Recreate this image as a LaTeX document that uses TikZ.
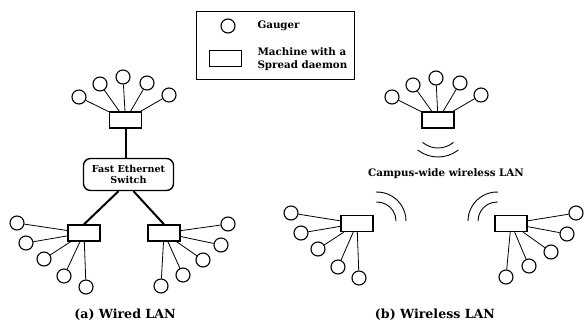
\documentclass[tikz,border=0pt]{standalone}
\usepackage{fontspec}
\setmainfont{DejaVu Serif}
\usetikzlibrary{positioning}

\begin{document}
\begin{tikzpicture}[x=1pt,y=-1pt,
        gauger/.style={draw,circle,line width=1.1pt,minimum size=14pt,inner sep=0pt},
        machine/.style={draw,rectangle,line width=1.4pt,minimum width=32pt,minimum height=16pt,inner sep=0pt},
        switchbox/.style={draw,rectangle,rounded corners=7pt,line width=1.4pt,minimum width=90pt,minimum height=32pt,inner sep=1pt,align=center,font=\bfseries\fontsize{9.6}{11}\selectfont},
        keybox/.style={draw,rectangle,line width=0.8pt,minimum width=158pt,minimum height=68pt},
        link/.style={line width=0.8pt},
        trunk/.style={line width=2pt},
        wave/.style={line width=0.9pt},
        lbl/.style={font=\bfseries\fontsize{10.3}{13.5}\selectfont,align=left},
        subcap/.style={font=\bfseries\fontsize{12.6}{14}\selectfont}]
        \useasboundingbox (0,0) rectangle (584,333);
        % legend
        \node[keybox] (key) at (275.5,45.5) {};
        \node[gauger] (kg) at (228,26) {};
        \node[machine] (km) at (225.5,58.5) {};
        \node[lbl,anchor=west] (kgl) at (254,26) {Gauger};
        \node[lbl,anchor=west] (kml) at (254,59) {Machine with a\\Spread daemon};
        % (a) wired LAN
        \node[machine] (mt) at (125.5,120) {};
        \node[switchbox] (sw) at (128.5,174.5) {Fast Ethernet\\Switch};
        \node[machine] (ml) at (84,233) {};
        \node[machine] (mr) at (164,233) {};
        \foreach \n/\p in {1/{79,97},2/{100,84},3/{123,77},4/{147,83},5/{169,95}}{
          \node[gauger] (gt\n) at (\p) {};
          \draw[link] (mt) -- (gt\n);
        }
        \foreach \n/\p in {1/{17,223},2/{26,243},3/{44,259},4/{64,276},5/{86,287}}{
          \node[gauger] (gl\n) at (\p) {};
          \draw[link] (ml) -- (gl\n);
        }
        \foreach \n/\p in {1/{228,224},2/{221,245},3/{203,260},4/{183,275},5/{161,286}}{
          \node[gauger] (gr\n) at (\p) {};
          \draw[link] (mr) -- (gr\n);
        }
        \draw[trunk] (mt.south) -- (mt.south |- sw.north);
        \draw[trunk] ([xshift=-10pt]sw.south) -- (ml.north);
        \draw[trunk] ([xshift=5pt]sw.south) -- (mr.north);
        \node[subcap] (capa) at (125,315) {(a) Wired LAN};
        % (b) wireless LAN
        \node[machine] (wt) at (438,120) {};
        \node[machine] (wl) at (357,223.5) {};
        \node[machine] (wr) at (511,223.5) {};
        \foreach \n/\p in {1/{392,97},2/{413,85},3/{436,78},4/{460,83},5/{481,95}}{
          \node[gauger] (ht\n) at (\p) {};
          \draw[link] (wt) -- (ht\n);
        }
        \foreach \n/\p in {1/{291,213},2/{301,233},3/{318,249},4/{338,267},5/{359,278}}{
          \node[gauger] (hl\n) at (\p) {};
          \draw[link] (wl) -- (hl\n);
        }
        \foreach \n/\p in {1/{576,213},2/{567,234},3/{551,252},4/{529,266},5/{506,277}}{
          \node[gauger] (hr\n) at (\p) {};
          \draw[link] (wr) -- (hr\n);
        }
        \coordinate (wtc) at (438,124);
        \coordinate (wlc) at (377,221);
        \coordinate (wrc) at (497,221);
        \draw[wave] ([shift={(50:24)}]wtc) arc[start angle=50,end angle=130,radius=24];
        \draw[wave] ([shift={(52:33)}]wtc) arc[start angle=52,end angle=128,radius=33];
        \draw[wave] ([shift={(-92:19)}]wlc) arc[start angle=-92,end angle=0,radius=19];
        \draw[wave] ([shift={(-92:29)}]wlc) arc[start angle=-92,end angle=0,radius=29];
        \draw[wave] ([shift={(180:19)}]wrc) arc[start angle=180,end angle=272,radius=19];
        \draw[wave] ([shift={(180:29)}]wrc) arc[start angle=180,end angle=272,radius=29];
        \node[lbl] (campus) at (446,174) {Campus-wide wireless LAN};
        \node[subcap] (capb) at (435,315) {(b) Wireless LAN};
\end{tikzpicture}
\end{document}
